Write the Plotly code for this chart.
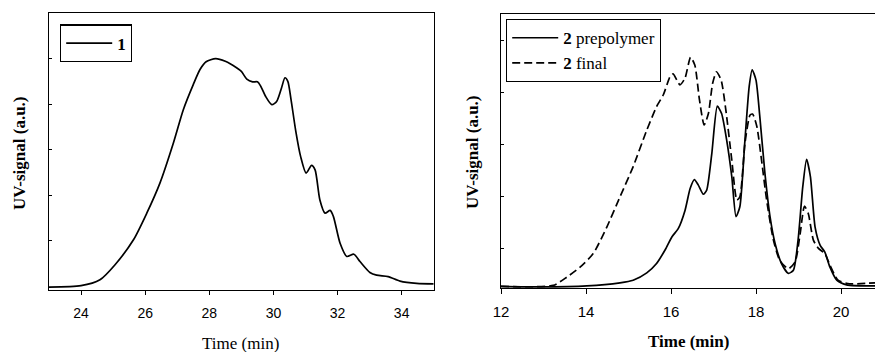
import plotly.graph_objects as go

W, H = 875, 352

# ---- Panel 1 data (time in min, UV signal in a.u.) ----
t1 = [23.0, 24.0, 24.59, 25.06, 25.63, 26.05, 26.46, 26.88, 27.19, 27.5, 27.71, 27.9,
      28.2, 28.5, 28.85, 29.0, 29.17, 29.35, 29.5, 29.6, 29.75, 29.95, 30.1, 30.25,
      30.36, 30.45, 30.55, 30.7, 30.85, 31.02, 31.19, 31.3, 31.45, 31.61, 31.77, 31.87,
      32.08, 32.29, 32.51, 32.7, 33.01, 33.22, 33.58, 33.95, 34.47, 35.0]
s1 = [-0.01, 0.02, 0.15, 0.48, 1.02, 1.61, 2.27, 3.15, 3.88, 4.43, 4.76, 4.93,
      5.0, 4.94, 4.80, 4.72, 4.55, 4.49, 4.49, 4.40, 4.18, 3.99, 4.06, 4.35,
      4.58, 4.50, 4.10, 3.40, 2.85, 2.49, 2.66, 2.56, 1.90, 1.61, 1.67, 1.54,
      0.95, 0.66, 0.71, 0.55, 0.31, 0.25, 0.22, 0.12, 0.07, 0.06]

# ---- Panel 2 data ----
t_pre = [12.0, 12.92, 14.02, 14.8, 15.11, 15.43, 15.66, 15.86, 16.02, 16.17, 16.33, 16.45,
         16.55, 16.64, 16.76, 16.84, 16.96, 17.09, 17.19, 17.31, 17.43, 17.53, 17.62, 17.74,
         17.84, 17.91, 18.0, 18.09, 18.21, 18.33, 18.45, 18.6, 18.76, 18.88, 18.99, 19.1,
         19.19, 19.28, 19.39, 19.51, 19.62, 19.74, 19.9, 20.13, 20.8]
s_pre = [0.01, 0.0, 0.02, 0.08, 0.13, 0.27, 0.45, 0.71, 0.96, 1.12, 1.47, 1.89,
         2.06, 1.96, 1.78, 1.86, 2.56, 3.47, 3.33, 2.82, 2.12, 1.35, 1.54, 2.82,
         3.85, 4.17, 3.97, 3.27, 2.18, 1.35, 0.83, 0.45, 0.26, 0.32, 0.90, 1.92,
         2.45, 2.12, 1.15, 0.80, 0.67, 0.38, 0.13, 0.04, 0.02]

t_fin = [12.0, 13.23, 13.55, 13.86, 14.17, 14.49, 14.8, 15.11, 15.43, 15.66, 15.82, 15.98,
         16.05, 16.21, 16.33, 16.46, 16.56, 16.67, 16.78, 16.88, 16.98, 17.07, 17.18, 17.29,
         17.43, 17.55, 17.62, 17.74, 17.86, 17.92, 18.02, 18.13, 18.25, 18.41, 18.56, 18.76,
         18.92, 19.04, 19.14, 19.23, 19.35, 19.47, 19.62, 19.74, 19.93, 20.2, 20.8]
s_fin = [0.01, 0.03, 0.19, 0.38, 0.64, 1.15, 1.73, 2.31, 3.01, 3.46, 3.69, 4.04,
         4.09, 3.88, 4.01, 4.41, 4.26, 3.59, 3.11, 3.33, 3.91, 4.13, 3.97, 3.40,
         2.44, 1.67, 1.73, 2.76, 3.30, 3.32, 3.08, 2.44, 1.67, 0.90, 0.51, 0.35,
         0.48, 1.03, 1.55, 1.41, 0.90, 0.74, 0.64, 0.42, 0.13, 0.06, 0.08]

x1_ticks = [24, 26, 28, 30, 32, 34]
x2_ticks = [12, 14, 16, 18, 20]
y1_ticks = [1, 2, 3, 4, 5]
y2_ticks = [0.74, 1.74, 2.74, 3.74, 4.74]

SERIF = "Liberation Serif"
SANS = "Liberation Sans"

def px(x):
    return x / W

def py(y):
    return 1 - y / H

fig = go.Figure()
fig.add_trace(go.Scatter(x=t1, y=s1, mode="lines", line=dict(color="black", width=1.7, shape="spline", smoothing=0.7),
                         name="<b>1</b>", xaxis="x", yaxis="y", legend="legend"))
fig.add_trace(go.Scatter(x=t_pre, y=s_pre, mode="lines", line=dict(color="black", width=1.7, shape="spline", smoothing=0.6),
                         name="<b>2</b> prepolymer", xaxis="x2", yaxis="y2", legend="legend2"))
fig.add_trace(go.Scatter(x=t_fin, y=s_fin, mode="lines", line=dict(color="black", width=1.7, dash="8px,4px", shape="spline", smoothing=0.6),
                         name="<b>2</b> final", xaxis="x2", yaxis="y2", legend="legend2"))

axis_common = dict(showgrid=False, zeroline=False, showline=True, linecolor="black", linewidth=1.2)

fig.update_layout(
    width=W, height=H,
    margin=dict(l=0, r=0, t=0, b=0, autoexpand=False),
    paper_bgcolor="white", plot_bgcolor="white",
    xaxis=dict(domain=[px(49), px(433.7)], range=[23, 35], tickvals=x1_ticks, ticks="outside", ticklen=4,
               tickcolor="black", mirror=True, anchor="y", ticklabelstandoff=6,
               tickfont=dict(family=SANS, size=14, color="black"), **axis_common),
    yaxis=dict(domain=[py(290), py(13)], range=[-0.075, 6.0], tickvals=y1_ticks, ticks="inside", ticklen=3,
               tickcolor="black", showticklabels=False, mirror=True, anchor="x", **axis_common),
    xaxis2=dict(domain=[px(501), 1.0], range=[12, 20.8], tickvals=x2_ticks, ticks="outside", ticklen=5,
                tickcolor="black", mirror=True, anchor="y2", ticklabelstandoff=5,
                tickfont=dict(family=SANS, size=15, color="black"), **axis_common),
    yaxis2=dict(domain=[py(288), py(14)], range=[-0.02, 5.24], tickvals=y2_ticks, ticks="inside", ticklen=3,
                tickcolor="black", showticklabels=False, mirror=False, anchor="x2", **axis_common),
    legend=dict(x=px(60), y=py(24.3), xanchor="left", yanchor="top", bgcolor="white", itemwidth=46,
                bordercolor="black", borderwidth=1.2, font=dict(family=SERIF, size=17, color="black")),
    legend2=dict(x=px(506), y=py(19), xanchor="left", yanchor="top", bgcolor="white", itemwidth=46,
                 bordercolor="black", borderwidth=1.2, font=dict(family=SERIF, size=17, color="black"),
                 tracegroupgap=0),
    showlegend=True,
)

annots = [
    dict(text="Time (min)", x=px(241), y=py(343), font=dict(family=SERIF, size=17)),
    dict(text="<b>Time (min)</b>", x=px(688), y=py(341), font=dict(family=SERIF, size=17)),
    dict(text="<b>UV-signal (a.u.)</b>", x=px(20), y=py(153), textangle=-90, font=dict(family=SERIF, size=17)),
    dict(text="<b>UV-signal (a.u.)</b>", x=px(472), y=py(152), textangle=-90, font=dict(family=SERIF, size=17)),
]
for a in annots:
    a.update(xref="paper", yref="paper", showarrow=False, xanchor="center", yanchor="middle")
    a["font"]["color"] = "black"
    fig.add_annotation(**a)

fig.write_html("out.html")
